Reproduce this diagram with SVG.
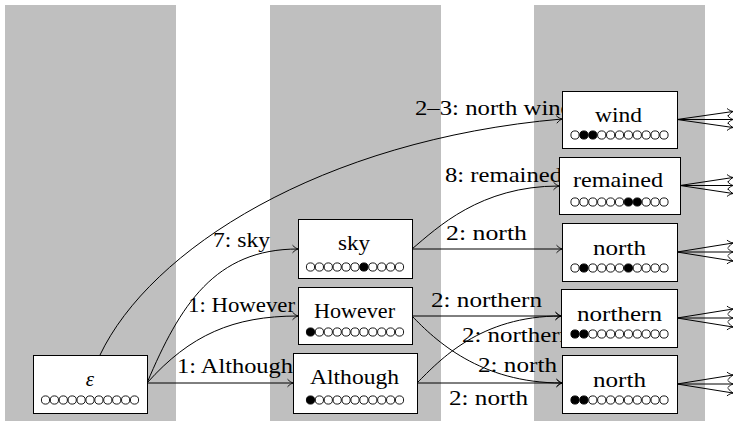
<svg xmlns="http://www.w3.org/2000/svg" width="738" height="421" viewBox="0 0 738 421" font-family="'Liberation Serif', 'Times New Roman', serif">
<style>
.band{fill:#bfbfbf}
.box{fill:#fff;stroke:#000;stroke-width:1}
text{font-family:'Liberation Serif','Times New Roman',serif;font-size:21px;fill:#000}
.c{text-anchor:middle}
.e{stroke:#000;stroke-width:1;fill:none;marker-end:url(#to)}
.o{fill:#fff;stroke:#000;stroke-width:0.9}
.f{fill:#000;stroke:#000;stroke-width:0.9}
</style>
<defs>
<marker id="to" viewBox="-7 -5 8 10" markerWidth="8" markerHeight="10" refX="0" refY="0" orient="auto" markerUnits="userSpaceOnUse" overflow="visible">
<path d="M-5.5,-3.8 C-3.5,-1.6 -1.2,-0.4 0,0 C-1.2,0.4 -3.5,1.6 -5.5,3.8" fill="none" stroke="#000" stroke-width="0.9"/>
</marker>
</defs>
<g id="bands">
<rect class="band" x="5" y="5" width="171" height="416"/>
<rect class="band" x="270" y="5" width="171" height="416"/>
<rect class="band" x="534" y="5" width="171" height="416"/>
</g>
<g id="connectors">
<path class="e" d="M100,355 C150,250 320,140 562,119"/>
<path class="e" d="M147,383 C180,305 215,249 298,249"/>
<path class="e" d="M147,383 C190,335 233,316 298,316"/>
<path class="e" d="M147,383 L293,383"/>
<path class="e" d="M412,249 C437,228 480,186 559,186"/>
<path class="e" d="M412,249 L562,249"/>
<path class="e" d="M412,316 L561,316"/>
<path class="e" d="M412,316 C435,340 480,383 562,383"/>
<path class="e" d="M417,383 C440,360 480,316 561,316"/>
<path class="e" d="M417,383 L562,383"/>
<path class="e" d="M677,119.5 L733,111.5"/><path class="e" d="M677,119.5 L733,119.5"/><path class="e" d="M677,119.5 L733,127.5"/>
<path class="e" d="M680,185.5 L733,177.5"/><path class="e" d="M680,185.5 L733,185.5"/><path class="e" d="M680,185.5 L733,193.5"/>
<path class="e" d="M677,252 L733,243"/><path class="e" d="M677,252 L733,252"/><path class="e" d="M677,252 L733,261"/>
<path class="e" d="M677,318 L733,309"/><path class="e" d="M677,318 L733,318"/><path class="e" d="M677,318 L733,327"/>
<path class="e" d="M677,384 L733,375"/><path class="e" d="M677,384 L733,384"/><path class="e" d="M677,384 L733,393"/>
</g>
<g id="edge-labels">
<text x="415" y="115" textLength="158" lengthAdjust="spacingAndGlyphs">2–3: north wind</text>
<text x="445" y="182" textLength="117" lengthAdjust="spacingAndGlyphs">8: remained</text>
<text x="446" y="240" textLength="81" lengthAdjust="spacingAndGlyphs">2: north</text>
<text x="213" y="247" textLength="57" lengthAdjust="spacingAndGlyphs">7: sky</text>
<text x="188" y="312" textLength="107" lengthAdjust="spacingAndGlyphs">1: However</text>
<text x="177" y="373" textLength="116" lengthAdjust="spacingAndGlyphs">1: Although</text>
<text x="431" y="307" textLength="111" lengthAdjust="spacingAndGlyphs">2: northern</text>
<text x="462" y="342" textLength="110" lengthAdjust="spacingAndGlyphs">2: northern</text>
<text x="478" y="372" textLength="79" lengthAdjust="spacingAndGlyphs">2: north</text>
<text x="449" y="405" textLength="79" lengthAdjust="spacingAndGlyphs">2: north</text>
</g>
<g id="node-eps">
<rect class="box" x="33.5" y="355.5" width="114" height="58"/>
<text class="c" x="90" y="386" font-style="italic">ε</text>
<g transform="translate(45.5,400)"><circle class="o" cx="0" cy="0" r="4.1"/><circle class="o" cx="8.9" cy="0" r="4.1"/><circle class="o" cx="17.8" cy="0" r="4.1"/><circle class="o" cx="26.7" cy="0" r="4.1"/><circle class="o" cx="35.6" cy="0" r="4.1"/><circle class="o" cx="44.5" cy="0" r="4.1"/><circle class="o" cx="53.4" cy="0" r="4.1"/><circle class="o" cx="62.3" cy="0" r="4.1"/><circle class="o" cx="71.2" cy="0" r="4.1"/><circle class="o" cx="80.1" cy="0" r="4.1"/><circle class="o" cx="89" cy="0" r="4.1"/></g>
</g>
<g id="node-sky">
<rect class="box" x="298.5" y="219.5" width="114" height="59"/>
<text x="338" y="250" textLength="32" lengthAdjust="spacingAndGlyphs">sky</text>
<g transform="translate(310.5,267)"><circle class="o" cx="0" cy="0" r="4.1"/><circle class="o" cx="8.9" cy="0" r="4.1"/><circle class="o" cx="17.8" cy="0" r="4.1"/><circle class="o" cx="26.7" cy="0" r="4.1"/><circle class="o" cx="35.6" cy="0" r="4.1"/><circle class="o" cx="44.5" cy="0" r="4.1"/><circle class="f" cx="53.4" cy="0" r="4.1"/><circle class="o" cx="62.3" cy="0" r="4.1"/><circle class="o" cx="71.2" cy="0" r="4.1"/><circle class="o" cx="80.1" cy="0" r="4.1"/><circle class="o" cx="89" cy="0" r="4.1"/></g>
</g>
<g id="node-however">
<rect class="box" x="298.5" y="287.5" width="114" height="57"/>
<text x="314" y="318" textLength="81" lengthAdjust="spacingAndGlyphs">However</text>
<g transform="translate(310.5,332)"><circle class="f" cx="0" cy="0" r="4.1"/><circle class="o" cx="8.9" cy="0" r="4.1"/><circle class="o" cx="17.8" cy="0" r="4.1"/><circle class="o" cx="26.7" cy="0" r="4.1"/><circle class="o" cx="35.6" cy="0" r="4.1"/><circle class="o" cx="44.5" cy="0" r="4.1"/><circle class="o" cx="53.4" cy="0" r="4.1"/><circle class="o" cx="62.3" cy="0" r="4.1"/><circle class="o" cx="71.2" cy="0" r="4.1"/><circle class="o" cx="80.1" cy="0" r="4.1"/><circle class="o" cx="89" cy="0" r="4.1"/></g>
</g>
<g id="node-although">
<rect class="box" x="293.5" y="353.5" width="124" height="60"/>
<text x="310" y="384" textLength="89" lengthAdjust="spacingAndGlyphs">Although</text>
<g transform="translate(310.5,400)"><circle class="f" cx="0" cy="0" r="4.1"/><circle class="o" cx="8.9" cy="0" r="4.1"/><circle class="o" cx="17.8" cy="0" r="4.1"/><circle class="o" cx="26.7" cy="0" r="4.1"/><circle class="o" cx="35.6" cy="0" r="4.1"/><circle class="o" cx="44.5" cy="0" r="4.1"/><circle class="o" cx="53.4" cy="0" r="4.1"/><circle class="o" cx="62.3" cy="0" r="4.1"/><circle class="o" cx="71.2" cy="0" r="4.1"/><circle class="o" cx="80.1" cy="0" r="4.1"/><circle class="o" cx="89" cy="0" r="4.1"/></g>
</g>
<g id="node-wind">
<rect class="box" x="562.5" y="91.5" width="115" height="57"/>
<text x="595" y="122" textLength="47" lengthAdjust="spacingAndGlyphs">wind</text>
<g transform="translate(575,135)"><circle class="o" cx="0" cy="0" r="4.1"/><circle class="f" cx="8.9" cy="0" r="4.1"/><circle class="f" cx="17.8" cy="0" r="4.1"/><circle class="o" cx="26.7" cy="0" r="4.1"/><circle class="o" cx="35.6" cy="0" r="4.1"/><circle class="o" cx="44.5" cy="0" r="4.1"/><circle class="o" cx="53.4" cy="0" r="4.1"/><circle class="o" cx="62.3" cy="0" r="4.1"/><circle class="o" cx="71.2" cy="0" r="4.1"/><circle class="o" cx="80.1" cy="0" r="4.1"/><circle class="o" cx="89" cy="0" r="4.1"/></g>
</g>
<g id="node-remained">
<rect class="box" x="559.5" y="157.5" width="121" height="57"/>
<text x="573" y="187" textLength="90" lengthAdjust="spacingAndGlyphs">remained</text>
<g transform="translate(575,202)"><circle class="o" cx="0" cy="0" r="4.1"/><circle class="o" cx="8.9" cy="0" r="4.1"/><circle class="o" cx="17.8" cy="0" r="4.1"/><circle class="o" cx="26.7" cy="0" r="4.1"/><circle class="o" cx="35.6" cy="0" r="4.1"/><circle class="o" cx="44.5" cy="0" r="4.1"/><circle class="f" cx="53.4" cy="0" r="4.1"/><circle class="f" cx="62.3" cy="0" r="4.1"/><circle class="o" cx="71.2" cy="0" r="4.1"/><circle class="o" cx="80.1" cy="0" r="4.1"/><circle class="o" cx="89" cy="0" r="4.1"/></g>
</g>
<g id="node-north-1">
<rect class="box" x="562.5" y="223.5" width="115" height="58"/>
<text x="593" y="255" textLength="53" lengthAdjust="spacingAndGlyphs">north</text>
<g transform="translate(575,268)"><circle class="o" cx="0" cy="0" r="4.1"/><circle class="f" cx="8.9" cy="0" r="4.1"/><circle class="o" cx="17.8" cy="0" r="4.1"/><circle class="o" cx="26.7" cy="0" r="4.1"/><circle class="o" cx="35.6" cy="0" r="4.1"/><circle class="o" cx="44.5" cy="0" r="4.1"/><circle class="f" cx="53.4" cy="0" r="4.1"/><circle class="o" cx="62.3" cy="0" r="4.1"/><circle class="o" cx="71.2" cy="0" r="4.1"/><circle class="o" cx="80.1" cy="0" r="4.1"/><circle class="o" cx="89" cy="0" r="4.1"/></g>
</g>
<g id="node-northern">
<rect class="box" x="561.5" y="289.5" width="116" height="58"/>
<text x="577" y="321" textLength="85" lengthAdjust="spacingAndGlyphs">northern</text>
<g transform="translate(575,334)"><circle class="f" cx="0" cy="0" r="4.1"/><circle class="f" cx="8.9" cy="0" r="4.1"/><circle class="o" cx="17.8" cy="0" r="4.1"/><circle class="o" cx="26.7" cy="0" r="4.1"/><circle class="o" cx="35.6" cy="0" r="4.1"/><circle class="o" cx="44.5" cy="0" r="4.1"/><circle class="o" cx="53.4" cy="0" r="4.1"/><circle class="o" cx="62.3" cy="0" r="4.1"/><circle class="o" cx="71.2" cy="0" r="4.1"/><circle class="o" cx="80.1" cy="0" r="4.1"/><circle class="o" cx="89" cy="0" r="4.1"/></g>
</g>
<g id="node-north-2">
<rect class="box" x="562.5" y="355.5" width="115" height="58"/>
<text x="593" y="387" textLength="53" lengthAdjust="spacingAndGlyphs">north</text>
<g transform="translate(575,400)"><circle class="f" cx="0" cy="0" r="4.1"/><circle class="f" cx="8.9" cy="0" r="4.1"/><circle class="o" cx="17.8" cy="0" r="4.1"/><circle class="o" cx="26.7" cy="0" r="4.1"/><circle class="o" cx="35.6" cy="0" r="4.1"/><circle class="o" cx="44.5" cy="0" r="4.1"/><circle class="o" cx="53.4" cy="0" r="4.1"/><circle class="o" cx="62.3" cy="0" r="4.1"/><circle class="o" cx="71.2" cy="0" r="4.1"/><circle class="o" cx="80.1" cy="0" r="4.1"/><circle class="o" cx="89" cy="0" r="4.1"/></g>
</g>
</svg>
